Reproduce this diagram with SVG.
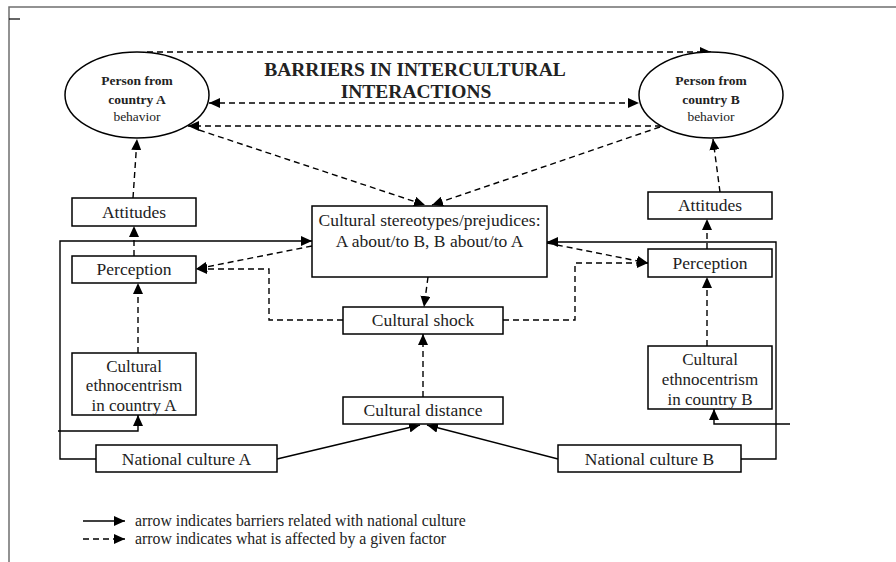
<svg xmlns="http://www.w3.org/2000/svg" width="896" height="562" viewBox="0 0 896 562">
<style>
  .box { fill: #fff; stroke: #000; stroke-width: 1.5; }
  text { font-family: 'Liberation Serif', 'DejaVu Serif', serif; fill: #222; }
  .t { font-size: 17.5px; text-anchor: middle; }
  .et { font-size: 13.5px; text-anchor: middle; }
  .b { font-weight: bold; }
  .title { font-size: 19.5px; font-weight: bold; text-anchor: middle; }
  .lg { font-size: 15.8px; }
  .solid { fill: none; stroke: #000; stroke-width: 1.4; }
  .dash { fill: none; stroke: #000; stroke-width: 1.4; stroke-dasharray: 6,4; }
  .frame { fill: none; stroke: #6f6f6f; stroke-width: 1.5; }
</style>
<defs>
  <marker id="ah" markerUnits="userSpaceOnUse" markerWidth="11" markerHeight="10" refX="11" refY="5" orient="auto-start-reverse">
    <path d="M0,0 L11,5 L0,10 z" fill="#000"/>
  </marker>
</defs>
<rect width="896" height="562" fill="#fff"/>
<g id="frame">
  <path class="frame" d="M9,562 L9,7 L896,7"/>
  <line x1="9" y1="19" x2="20" y2="19" stroke="#000" stroke-width="1.2"/>
</g>
<g id="connectors">
  <line class="dash" x1="147" y1="52" x2="711" y2="52" marker-end="url(#ah)"/>
  <line class="dash" x1="209" y1="103" x2="639" y2="103" marker-start="url(#ah)" marker-end="url(#ah)"/>
  <line class="dash" x1="661" y1="126" x2="188" y2="126" marker-end="url(#ah)"/>
  <line class="dash" x1="199" y1="130" x2="425" y2="205" marker-end="url(#ah)"/>
  <line class="dash" x1="660" y1="127" x2="432" y2="205" marker-end="url(#ah)"/>
  <line class="dash" x1="133" y1="198" x2="137" y2="139" marker-end="url(#ah)"/>
  <line class="dash" x1="134" y1="256" x2="134" y2="226" marker-end="url(#ah)"/>
  <line class="dash" x1="138" y1="353" x2="138" y2="283" marker-end="url(#ah)"/>
  <line class="dash" x1="720" y1="192" x2="713" y2="139" marker-end="url(#ah)"/>
  <line class="dash" x1="707" y1="249" x2="707" y2="219" marker-end="url(#ah)"/>
  <line class="dash" x1="707" y1="346" x2="707" y2="277" marker-end="url(#ah)"/>
  <line class="dash" x1="312" y1="246" x2="196" y2="269" marker-end="url(#ah)"/>
  <line class="dash" x1="547" y1="243" x2="648" y2="263" marker-end="url(#ah)"/>
  <polyline class="dash" points="343,320 269,320 269,269 196,269" marker-end="url(#ah)"/>
  <polyline class="dash" points="503,320 575,320 575,263 648,263" marker-end="url(#ah)"/>
  <line class="dash" x1="428" y1="277" x2="424" y2="307" marker-end="url(#ah)"/>
  <line class="dash" x1="423" y1="397" x2="423" y2="334" marker-end="url(#ah)"/>
  <polyline class="solid" points="96,459 60,459 60,241 312,241" marker-end="url(#ah)"/>
  <polyline class="solid" points="741,459 776,459 776,242 547,242" marker-end="url(#ah)"/>
  <polyline class="solid" points="58,431 138,431 138,415" marker-end="url(#ah)"/>
  <polyline class="solid" points="790,424 714,424 714,409" marker-end="url(#ah)"/>
  <line class="solid" x1="277" y1="459" x2="420" y2="425" marker-end="url(#ah)"/>
  <line class="solid" x1="558" y1="459" x2="427" y2="425" marker-end="url(#ah)"/>
</g>
<g id="title">
  <text class="title" x="415" y="76">BARRIERS IN INTERCULTURAL</text>
  <text class="title" x="416" y="98">INTERACTIONS</text>
</g>
<g id="personA">
  <ellipse class="box" cx="137" cy="95" rx="72" ry="43"/>
  <text class="et b" x="137" y="84.5">Person from</text>
  <text class="et b" x="137" y="103.5">country A</text>
  <text class="et" x="137" y="120.5">behavior</text>
</g>
<g id="personB">
  <ellipse class="box" cx="711" cy="95" rx="72" ry="43"/>
  <text class="et b" x="711" y="84.5">Person from</text>
  <text class="et b" x="711" y="103.5">country B</text>
  <text class="et" x="711" y="120.5">behavior</text>
</g>
<g id="attitudesA">
  <rect class="box" x="72" y="198" width="124" height="28"/>
  <text class="t" x="134" y="218">Attitudes</text>
</g>
<g id="perceptionA">
  <rect class="box" x="72" y="256" width="124" height="27"/>
  <text class="t" x="134" y="275">Perception</text>
</g>
<g id="ethnoA">
  <rect class="box" x="72" y="353" width="124" height="62"/>
  <text class="t" x="134" y="372" style="font-size:17px">Cultural</text>
  <text class="t" x="134" y="391" style="font-size:17px">ethnocentrism</text>
  <text class="t" x="134" y="411" style="font-size:17px">in country A</text>
</g>
<g id="attitudesB">
  <rect class="box" x="648" y="192" width="124" height="27"/>
  <text class="t" x="710" y="211">Attitudes</text>
</g>
<g id="perceptionB">
  <rect class="box" x="648" y="249" width="124" height="28"/>
  <text class="t" x="710" y="269">Perception</text>
</g>
<g id="ethnoB">
  <rect class="box" x="648" y="346" width="124" height="63"/>
  <text class="t" x="710" y="365" style="font-size:17px">Cultural</text>
  <text class="t" x="710" y="385" style="font-size:17px">ethnocentrism</text>
  <text class="t" x="710" y="405" style="font-size:17px">in country B</text>
</g>
<g id="stereotypes">
  <rect class="box" x="312" y="206" width="235" height="71"/>
  <text class="t" x="429.5" y="226">Cultural stereotypes/prejudices:</text>
  <text class="t" x="429.5" y="247">A about/to B, B about/to A</text>
</g>
<g id="shock">
  <rect class="box" x="343" y="307" width="160" height="27"/>
  <text class="t" x="423" y="326">Cultural shock</text>
</g>
<g id="distance">
  <rect class="box" x="343" y="397" width="160" height="27"/>
  <text class="t" x="423" y="416">Cultural distance</text>
</g>
<g id="nationalA">
  <rect class="box" x="96" y="445" width="181" height="27"/>
  <text class="t" x="186.5" y="465">National culture A</text>
</g>
<g id="nationalB">
  <rect class="box" x="558" y="445" width="183" height="27"/>
  <text class="t" x="649.5" y="465">National culture B</text>
</g>
<g id="legend">
  <line class="solid" x1="83" y1="521" x2="125" y2="521" marker-end="url(#ah)"/>
  <text class="lg" x="135" y="526">arrow indicates barriers related with national culture</text>
  <line class="dash" x1="83" y1="539" x2="125" y2="539" marker-end="url(#ah)"/>
  <text class="lg" x="135" y="544">arrow indicates what is affected by a given factor</text>
</g>
</svg>
